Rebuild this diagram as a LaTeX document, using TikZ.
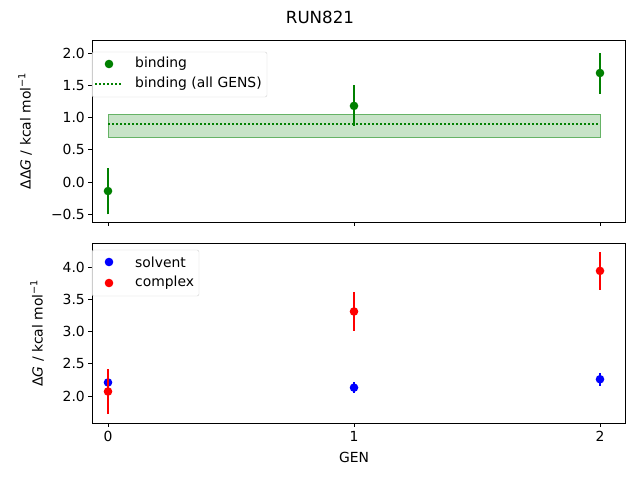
\documentclass[tikz,border=0pt]{standalone}
\usepackage{fontspec}
\setmainfont{DejaVu Sans}
\definecolor{mg}{RGB}{0,128,0}
\begin{document}
\begin{tikzpicture}[x=1pt,y=-1pt,
  lab/.style={font=\fontsize{13.9}{16}\selectfont,inner sep=0pt},
  mk/.style={radius=4.3},
  eb/.style={line width=1.5pt}]
\useasboundingbox (0,0) rectangle (640,480);
\fill[white] (0,0) rectangle (640,480);
\node[lab,font=\fontsize{16.7}{19}\selectfont] (title) at (320,17) {RUN821};
% top axes
\def\ty#1{182-64.5*(#1)}
\fill[mg,opacity=0.22] (108,{\ty{0.70}}) rectangle (600,{\ty{1.05}});
\draw[mg!60,line width=0.6pt] (108,{\ty{0.70}}) rectangle (600,{\ty{1.05}});
\draw[mg,dash pattern=on 1.5pt off 2.5pt,line width=1.3pt] (108,{\ty{0.9}}) -- (600,{\ty{0.9}});
\foreach \x/\v/\lo/\hi in {108/-0.14/-0.5/0.22,354/1.18/0.87/1.5,600/1.69/1.37/2.0}{
  \draw[mg,eb] (\x,{\ty{\lo}}) -- (\x,{\ty{\hi}});
  \fill[mg] (\x,{\ty{\v}}) circle[mk];}
\draw[line width=0.8pt] (92,40) rectangle (625,222);
\foreach \v/\t in {-0.5/−0.5,0.0/0.0,0.5/0.5,1.0/1.0,1.5/1.5,2.0/2.0}{
  \draw[line width=0.8pt] (92,{\ty{\v}}) -- (88,{\ty{\v}});
  \node[lab,anchor=east] at (85,{\ty{\v}}) {\t};}
\foreach \x in {108,354,600} \draw[line width=0.8pt] (\x,222) -- (\x,226);
\node[lab,rotate=90] (yl1) at (25,131) {ΔΔ\textit{G} / kcal mol\textsuperscript{−1}};
% top legend
\draw[gray!35,fill=white,fill opacity=0.8,rounded corners=2pt] (92,52) rectangle (267,97);
\fill[mg] (109,64) circle[mk];
\node[lab,anchor=west] at (135,64) {binding};
\draw[mg,dash pattern=on 1.5pt off 2.5pt,line width=1.3pt] (95,84) -- (123,84);
\node[lab,anchor=west] at (135,84) {binding (all GENS)};
% bottom axes
\def\by#1{396-64.5*((#1)-2)}
\foreach \x/\v/\lo/\hi in {108/2.21/2.16/2.26,354/2.13/2.05/2.21,600/2.26/2.16/2.36}{
  \draw[blue,eb] (\x,{\by{\lo}}) -- (\x,{\by{\hi}});
  \fill[blue] (\x,{\by{\v}}) circle[mk];}
\foreach \x/\v/\lo/\hi in {108/2.07/1.72/2.42,354/3.31/3.01/3.61,600/3.94/3.65/4.23}{
  \draw[red,eb] (\x,{\by{\lo}}) -- (\x,{\by{\hi}});
  \fill[red] (\x,{\by{\v}}) circle[mk];}
\draw[line width=0.8pt] (92,243) rectangle (625,423);
\foreach \v in {2.0,2.5,3.0,3.5,4.0}{
  \draw[line width=0.8pt] (92,{\by{\v}}) -- (88,{\by{\v}});
  \node[lab,anchor=east] at (85,{\by{\v}}) {\v};}
\foreach \x/\t in {108/0,354/1,600/2}{
  \draw[line width=0.8pt] (\x,423) -- (\x,427);
  \node[lab,anchor=north] at (\x,431) {\t};}
\node[lab] (xl) at (354,457) {GEN};
\node[lab,rotate=90] (yl2) at (37,333) {Δ\textit{G} / kcal mol\textsuperscript{−1}};
% bottom legend
\draw[gray!35,fill=white,fill opacity=0.8,rounded corners=2pt] (92,250) rectangle (199,296);
\fill[blue] (109,262) circle[mk];
\node[lab,anchor=west] at (135,262) {solvent};
\fill[red] (109,283) circle[mk];
\node[lab,anchor=west] at (135,283) {complex};
\end{tikzpicture}
\end{document}
